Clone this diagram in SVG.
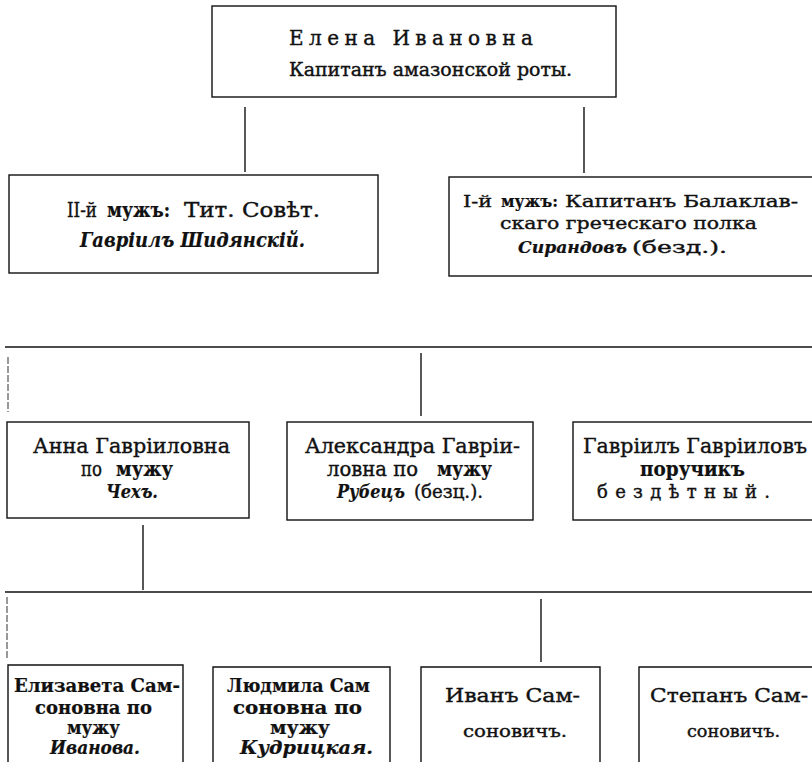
<svg xmlns="http://www.w3.org/2000/svg" width="812" height="762" viewBox="0 0 812 762">
<style>
.bx{fill:none;stroke:#111;stroke-width:1.4}
.ln{fill:none;stroke:#111;stroke-width:1.4}
.tk{fill:none;stroke:#333;stroke-width:1;stroke-dasharray:7 2}
text{font-family:"DejaVu Serif","Liberation Serif",serif;fill:#111;stroke:#111;stroke-width:0.4}
.b{font-weight:bold;stroke-width:0.2}
.i{font-style:italic;font-weight:bold;stroke-width:0.2}
</style>
<rect width="812" height="762" fill="#fff"/>
<g id="connectors">
<path class="ln" d="M245 107V172"/>
<path class="ln" d="M584 107V173"/>
<path class="ln" d="M5 347H812"/>
<path class="tk" d="M8 357V412"/>
<path class="ln" d="M421 353V416"/>
<path class="ln" d="M143 525V590"/>
<path class="ln" d="M5 592H812"/>
<path class="tk" d="M7 597V660"/>
<path class="ln" d="M541 599V662"/>
</g>
<g id="elena">
<rect class="bx" x="212" y="6" width="404" height="91"/>
<text x="289" y="45" font-size="20" textLength="244" lengthAdjust="spacing">Елена Ивановна</text>
<text x="289" y="76" font-size="18" textLength="283" lengthAdjust="spacingAndGlyphs">Капитанъ амазонской роты.</text>
</g>
<g id="husband2">
<rect class="bx" x="9" y="175" width="369" height="98"/>
<text y="217" font-size="20"><tspan x="67" textLength="30" lengthAdjust="spacingAndGlyphs">II-й</tspan> <tspan class="b" x="107" textLength="63" lengthAdjust="spacingAndGlyphs">мужъ:</tspan> <tspan x="184" textLength="136" lengthAdjust="spacingAndGlyphs">Тит. Совѣт.</tspan></text>
<text class="i" x="80" y="247" font-size="20" textLength="225" lengthAdjust="spacingAndGlyphs">Гавріилъ Шидянскій.</text>
</g>
<g id="husband1">
<rect class="bx" x="449" y="177" width="400" height="99"/>
<text y="207" font-size="17"><tspan x="463" textLength="29" lengthAdjust="spacingAndGlyphs">I-й</tspan> <tspan class="b" x="501" textLength="57" lengthAdjust="spacingAndGlyphs">мужъ:</tspan> <tspan x="565" textLength="233" lengthAdjust="spacingAndGlyphs">Капитанъ Балаклав-</tspan></text>
<text x="500" y="229" font-size="17" textLength="257" lengthAdjust="spacingAndGlyphs">скаго греческаго полка</text>
<text y="253" font-size="17"><tspan class="i" x="518" textLength="109" lengthAdjust="spacingAndGlyphs">Сирандовъ</tspan> <tspan x="632" textLength="95" lengthAdjust="spacingAndGlyphs">(безд.).</tspan></text>
</g>
<g id="anna">
<rect class="bx" x="7" y="422" width="242" height="96"/>
<text x="33" y="453" font-size="20" textLength="197" lengthAdjust="spacingAndGlyphs">Анна Гавріиловна</text>
<text y="476" font-size="20"><tspan x="81" textLength="21" lengthAdjust="spacingAndGlyphs">по</tspan> <tspan class="b" x="116" textLength="57" lengthAdjust="spacingAndGlyphs">мужу</tspan></text>
<text class="i" x="106" y="498" font-size="19" textLength="52" lengthAdjust="spacingAndGlyphs">Чехъ.</text>
</g>
<g id="alexandra">
<rect class="bx" x="287" y="422" width="246" height="98"/>
<text x="305" y="453" font-size="20" textLength="215" lengthAdjust="spacingAndGlyphs">Александра Гавріи-</text>
<text y="476" font-size="20"><tspan x="327" textLength="91" lengthAdjust="spacingAndGlyphs">ловна по</tspan> <tspan class="b" x="437" textLength="55" lengthAdjust="spacingAndGlyphs">мужу</tspan></text>
<text y="498" font-size="19"><tspan class="i" x="337" textLength="68" lengthAdjust="spacingAndGlyphs">Рубецъ</tspan> <tspan x="414" textLength="69" lengthAdjust="spacingAndGlyphs">(безц.).</tspan></text>
</g>
<g id="gavriil">
<rect class="bx" x="573" y="422" width="260" height="98"/>
<text x="583" y="453" font-size="20" textLength="224" lengthAdjust="spacingAndGlyphs">Гавріилъ Гавріиловъ</text>
<text class="b" x="640" y="476" font-size="20" textLength="105" lengthAdjust="spacingAndGlyphs">поручикъ</text>
<text x="597" y="498" font-size="18" textLength="173" lengthAdjust="spacing">бездѣтный.</text>
</g>
<g id="elizaveta">
<path class="bx" d="M8 762V665H183V762"/>
<text class="b" x="14" y="692" font-size="18" textLength="166" lengthAdjust="spacingAndGlyphs">Елизавета Сам-</text>
<text class="b" x="35" y="714" font-size="18" textLength="117" lengthAdjust="spacingAndGlyphs">соновна по</text>
<text class="b" x="67" y="734" font-size="18" textLength="53" lengthAdjust="spacingAndGlyphs">мужу</text>
<text class="i" x="50" y="754" font-size="18" textLength="90" lengthAdjust="spacingAndGlyphs">Иванова.</text>
</g>
<g id="ludmila">
<path class="bx" d="M213 762V667H390V762"/>
<text class="b" x="227" y="692" font-size="18" textLength="143" lengthAdjust="spacingAndGlyphs">Людмила Сам</text>
<text class="b" x="233" y="714" font-size="18" textLength="129" lengthAdjust="spacingAndGlyphs">соновна по</text>
<text class="b" x="270" y="734" font-size="18" textLength="60" lengthAdjust="spacingAndGlyphs">мужу</text>
<text class="i" x="240" y="754" font-size="18" textLength="133" lengthAdjust="spacingAndGlyphs">Кудрицкая.</text>
</g>
<g id="ivan">
<path class="bx" d="M421 762V667H600V762"/>
<text x="445" y="702" font-size="19" textLength="135" lengthAdjust="spacingAndGlyphs">Иванъ Сам-</text>
<text x="463" y="737" font-size="17" textLength="104" lengthAdjust="spacingAndGlyphs">соновичъ.</text>
</g>
<g id="stepan">
<path class="bx" d="M639 762V667H830"/>
<text x="650" y="702" font-size="19" textLength="158" lengthAdjust="spacingAndGlyphs">Степанъ Сам-</text>
<text x="687" y="737" font-size="17" textLength="93" lengthAdjust="spacingAndGlyphs">соновичъ.</text>
</g>
</svg>
